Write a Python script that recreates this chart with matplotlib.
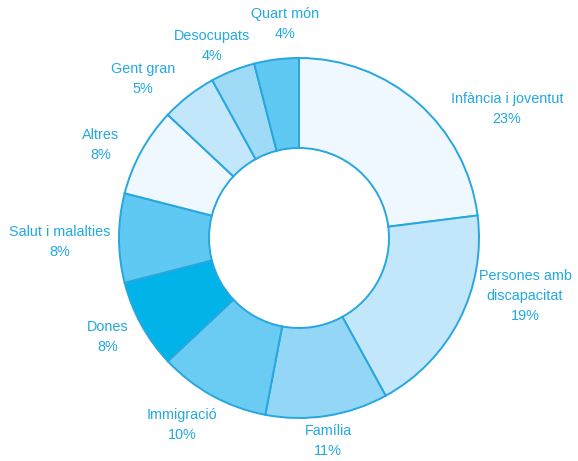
import matplotlib.pyplot as plt

# sectors, clockwise from the top
labels = ["Infància i joventut", "Persones amb\ndiscapacitat", "Família", "Immigració",
          "Dones", "Salut i malalties", "Altres", "Gent gran", "Desocupats", "Quart món"]
shares = [23, 19, 11, 10, 8, 8, 8, 5, 4, 4]
colors = ["#eef8fe", "#c3e7fa", "#94d6f5", "#6acbf3", "#00b4ea",
          "#5fc8f3", "#eef8fe", "#c3e7fa", "#9fdaf6", "#5fc8f3"]

# label anchor points in pixel space (x from left, y from top)
label_xy = [(507, 109), (525, 296), (328, 441), (182, 425), (108, 337),
            (60, 242), (101, 145), (143, 79), (212, 46), (285, 24)]

W, H = 578, 461
line_col = "#27a7de"
text_col = "#22a9e2"

fig = plt.figure(figsize=(W / 100, H / 100), dpi=100)
ax = fig.add_axes([0, 0, 1, 1])

R = 180
ax.pie(shares, colors=colors, startangle=90, counterclock=False,
       center=(299, H - 238), radius=R, frame=True,
       wedgeprops=dict(width=R * 0.5, edgecolor=line_col, linewidth=1.4))
ax.set_xlim(0, W)
ax.set_ylim(0, H)
ax.set_aspect("equal")
ax.axis("off")

for lab, v, (x, y) in zip(labels, shares, label_xy):
    ax.text(x, H - y, f"{lab}\n{v}%", ha="center", va="center",
            color=text_col, fontsize=10.4, family="Liberation Sans",
            linespacing=1.5)

fig.savefig("out.png", dpi=100)
